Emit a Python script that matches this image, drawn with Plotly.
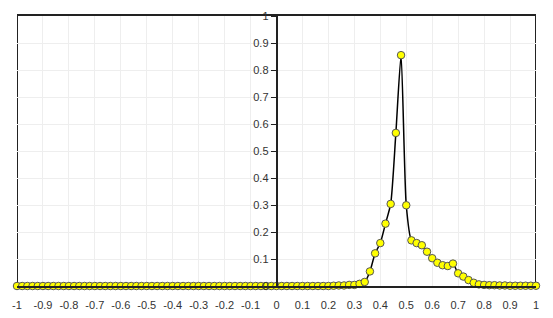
import plotly.graph_objects as go

x_values = [
    -1.00, -0.98, -0.96, -0.94, -0.92, -0.90, -0.88, -0.86, -0.84, -0.82,
    -0.80, -0.78, -0.76, -0.74, -0.72, -0.70, -0.68, -0.66, -0.64, -0.62,
    -0.60, -0.58, -0.56, -0.54, -0.52, -0.50, -0.48, -0.46, -0.44, -0.42,
    -0.40, -0.38, -0.36, -0.34, -0.32, -0.30, -0.28, -0.26, -0.24, -0.22,
    -0.20, -0.18, -0.16, -0.14, -0.12, -0.10, -0.08, -0.06, -0.04, -0.02,
    0.00, 0.02, 0.04, 0.06, 0.08, 0.10, 0.12, 0.14, 0.16, 0.18,
    0.20, 0.22, 0.24, 0.26, 0.28, 0.30, 0.32, 0.34, 0.36, 0.38,
    0.40, 0.42, 0.44, 0.46, 0.48, 0.50, 0.52, 0.54, 0.56, 0.58,
    0.60, 0.62, 0.64, 0.66, 0.68, 0.70, 0.72, 0.74, 0.76, 0.78,
    0.80, 0.82, 0.84, 0.86, 0.88, 0.90, 0.92, 0.94, 0.96, 0.98,
    1.00,
]

y_values = [
    0, 0, 0, 0, 0, 0, 0, 0, 0, 0,
    0, 0, 0, 0, 0, 0, 0, 0, 0, 0,
    0, 0, 0, 0, 0, 0, 0, 0, 0, 0,
    0, 0, 0, 0, 0, 0, 0, 0, 0, 0,
    0, 0, 0, 0, 0, 0, 0, 0, 0, 0,
    0, 0, 0, 0, 0, 0, 0, 0, 0, 0,
    0.000, 0.001, 0.002, 0.002, 0.004, 0.004, 0.008, 0.015, 0.054, 0.121,
    0.159, 0.231, 0.304, 0.567, 0.855, 0.299, 0.169, 0.159, 0.151, 0.127,
    0.103, 0.086, 0.077, 0.074, 0.083, 0.047, 0.035, 0.022, 0.012, 0.006,
    0.004, 0.003, 0.003, 0.002, 0.002, 0.001, 0.001, 0.001, 0.001, 0.001,
    0.001,
]

tick_vals = [-1, -0.9, -0.8, -0.7, -0.6, -0.5, -0.4, -0.3, -0.2, -0.1,
             0, 0.1, 0.2, 0.3, 0.4, 0.5, 0.6, 0.7, 0.8, 0.9, 1]
tick_text = ["-1", "-0.9", "-0.8", "-0.7", "-0.6", "-0.5", "-0.4", "-0.3", "-0.2", "-0.1",
             "0", "0.1", "0.2", "0.3", "0.4", "0.5", "0.6", "0.7", "0.8", "0.9", "1"]
y_tick_vals = [0, 0.1, 0.2, 0.3, 0.4, 0.5, 0.6, 0.7, 0.8, 0.9, 1]
y_tick_text = ["0", "0.1", "0.2", "0.3", "0.4", "0.5", "0.6", "0.7", "0.8", "0.9", "1"]

fig = go.Figure()
fig.add_trace(go.Scatter(
    x=x_values, y=y_values, mode="lines+markers",
    line=dict(color="black", width=1.5, shape="spline", smoothing=0.6),
    marker=dict(size=7.5, color="#FFFF00", line=dict(color="#555555", width=1)),
    showlegend=False, cliponaxis=False,
))

font_family = "Liberation Sans, Arial, sans-serif"

fig.update_layout(
    width=553, height=318,
    margin=dict(l=17, r=17, t=16, b=32, autoexpand=False),
    paper_bgcolor="white", plot_bgcolor="white",
    font=dict(family=font_family, size=11, color="#333333"),
    xaxis=dict(
        range=[-1, 1], tickvals=tick_vals, ticktext=tick_text,
        showgrid=True, gridcolor="#EEEEEE", gridwidth=1,
        showline=True, mirror=True, linecolor="#222222", linewidth=2,
        ticks="", zeroline=False, ticklabelstandoff=8, automargin=False,
    ),
    yaxis=dict(
        range=[0, 1], tickvals=y_tick_vals, ticktext=y_tick_text,
        anchor="free", position=0.5,
        showgrid=True, gridcolor="#EEEEEE", gridwidth=1,
        showline=True, linecolor="#222222", linewidth=1.5,
        ticks="outside", ticklen=5, tickcolor="#222222",
        zeroline=False, automargin=False,
    ),
    shapes=[
        dict(type="line", xref="x", yref="paper", x0=-1, x1=-1, y0=0, y1=1,
             line=dict(color="#222222", width=2), layer="below"),
        dict(type="line", xref="x", yref="paper", x0=1, x1=1, y0=0, y1=1,
             line=dict(color="#222222", width=2), layer="below"),
    ],
)

fig.write_html("out.html")
